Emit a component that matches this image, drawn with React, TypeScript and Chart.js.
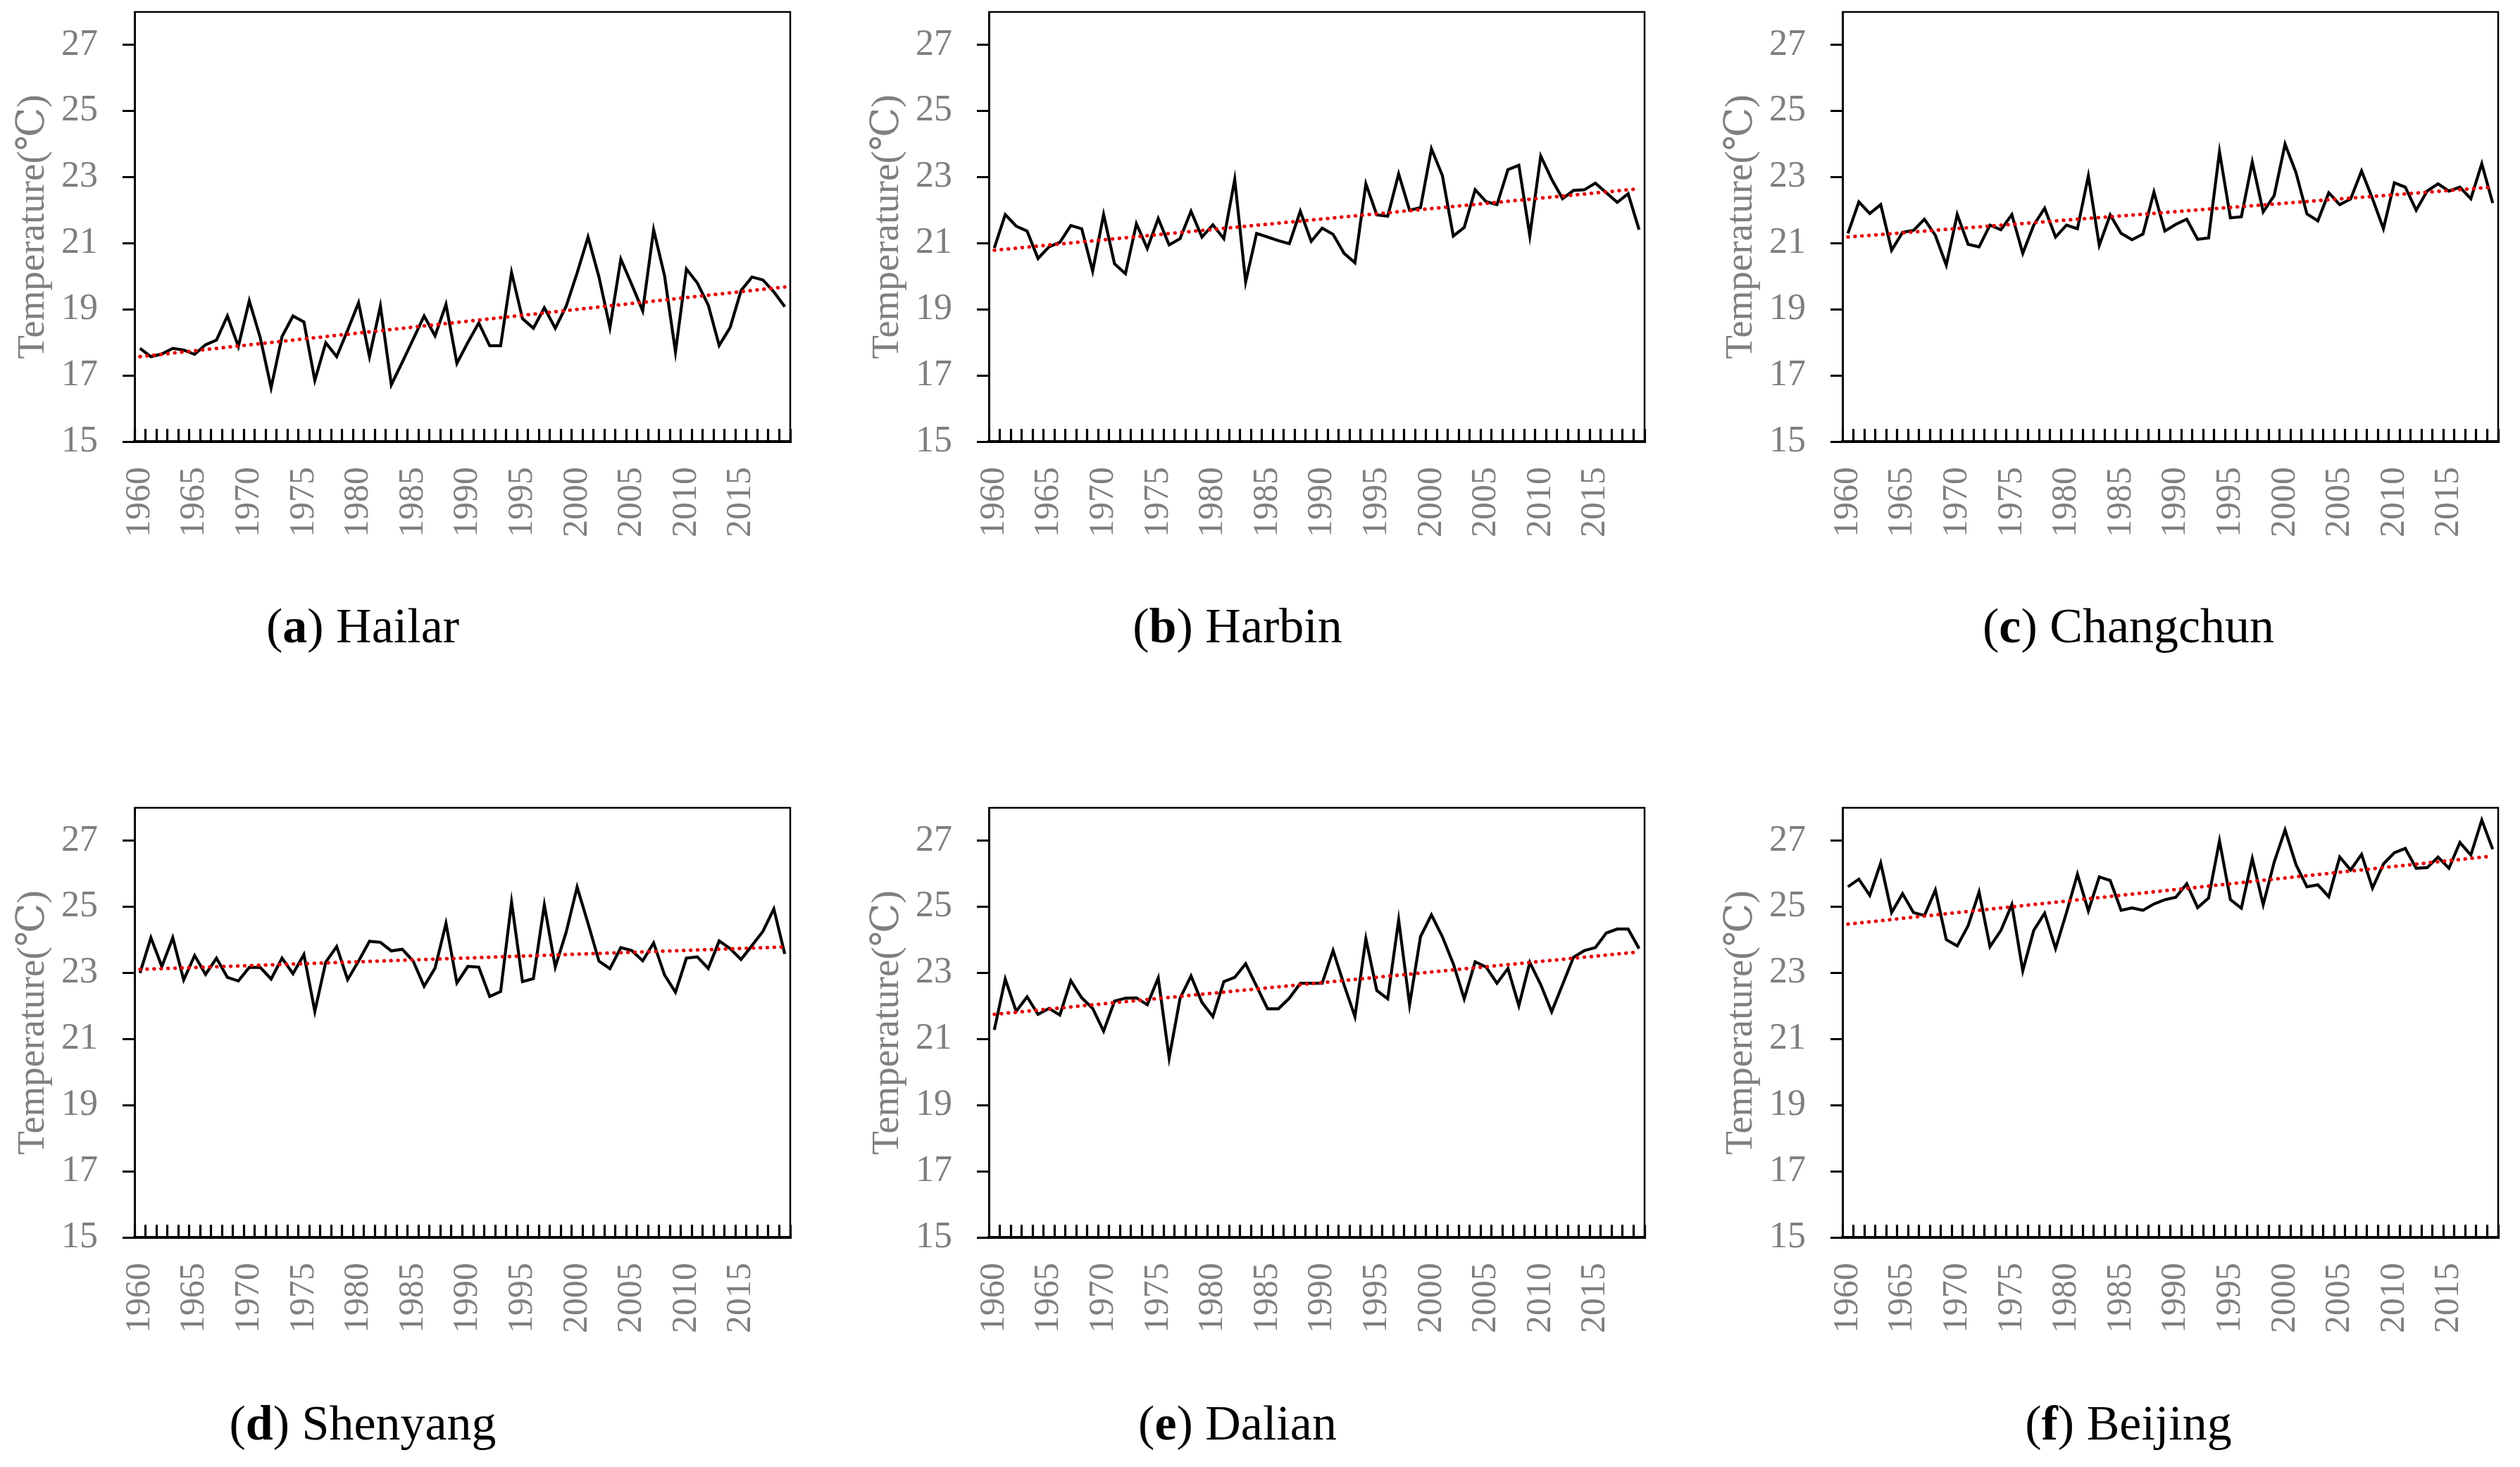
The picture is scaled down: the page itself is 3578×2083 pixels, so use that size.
import React, { useEffect, useRef } from 'react';
import { Chart, registerables } from 'chart.js';

Chart.register(...registerables);

// ---------------- data ----------------
const years = [
  1960, 1961, 1962, 1963, 1964, 1965, 1966, 1967, 1968, 1969,
  1970, 1971, 1972, 1973, 1974, 1975, 1976, 1977, 1978, 1979,
  1980, 1981, 1982, 1983, 1984, 1985, 1986, 1987, 1988, 1989,
  1990, 1991, 1992, 1993, 1994, 1995, 1996, 1997, 1998, 1999,
  2000, 2001, 2002, 2003, 2004, 2005, 2006, 2007, 2008, 2009,
  2010, 2011, 2012, 2013, 2014, 2015, 2016, 2017, 2018, 2019,
];

const hailar = [
  17.82, 17.57, 17.65, 17.82, 17.77, 17.64, 17.93, 18.07, 18.8, 17.88,
  19.26, 18.15, 16.63, 18.18, 18.8, 18.62, 16.85, 17.99, 17.57, 18.37,
  19.2, 17.57, 19.1, 16.72, 17.4, 18.1, 18.8, 18.2, 19.15, 17.37,
  18.0, 18.59, 17.9, 17.9, 20.12, 18.72, 18.43, 19.05, 18.43, 19.1,
  20.1, 21.19, 19.98, 18.45, 20.52, 19.75, 18.96, 21.41, 20.02, 17.71,
  20.22, 19.8, 19.13, 17.91, 18.45, 19.57, 19.98, 19.89, 19.53, 19.08,
];
const harbin = [
  20.86, 21.87, 21.52, 21.37, 20.54, 20.89, 21.03, 21.54, 21.44, 20.16,
  21.87, 20.38, 20.08, 21.59, 20.84, 21.75, 20.95, 21.14, 21.97, 21.19,
  21.56, 21.14, 22.93, 19.83, 21.3, 21.19, 21.08, 20.99, 21.97, 21.06,
  21.46, 21.27, 20.7, 20.41, 22.8, 21.86, 21.82, 23.1, 22.0, 22.08,
  23.86, 23.05, 21.22, 21.48, 22.62, 22.26, 22.17, 23.23, 23.36, 21.23,
  23.64, 22.94, 22.35, 22.6, 22.62, 22.82, 22.53, 22.24, 22.5, 21.41,
];
const changchun = [
  21.3, 22.25, 21.9, 22.17, 20.79, 21.33, 21.39, 21.73, 21.24, 20.34,
  21.87, 20.97, 20.89, 21.55, 21.41, 21.87, 20.7, 21.55, 22.06, 21.19,
  21.55, 21.44, 23.04, 20.94, 21.86, 21.3, 21.11, 21.28, 22.55, 21.37,
  21.57, 21.73, 21.12, 21.16, 23.77, 21.77, 21.8, 23.46, 21.95, 22.44,
  24.0, 23.14, 21.89, 21.68, 22.53, 22.17, 22.34, 23.19, 22.35, 21.44,
  22.83, 22.7, 22.0, 22.58, 22.8, 22.58, 22.7, 22.35, 23.41, 22.22,
];
const shenyang = [
  23.0, 24.07, 23.2, 24.07, 22.79, 23.53, 22.96, 23.45, 22.87, 22.76,
  23.17, 23.17, 22.82, 23.45, 22.98, 23.56, 21.84, 23.33, 23.8, 22.8,
  23.36, 23.96, 23.93, 23.67, 23.72, 23.36, 22.6, 23.15, 24.5, 22.7,
  23.2, 23.18, 22.29, 22.44, 25.15, 22.74, 22.83, 25.06, 23.18, 24.24,
  25.6, 24.5, 23.36, 23.13, 23.77, 23.68, 23.37, 23.91, 22.94, 22.42,
  23.45, 23.49, 23.14, 23.97, 23.74, 23.41, 23.83, 24.26, 24.94, 23.58,
];
const dalian = [
  21.28, 22.82, 21.84, 22.28, 21.75, 21.93, 21.73, 22.77, 22.25, 21.93,
  21.24, 22.15, 22.24, 22.25, 22.04, 22.85, 20.43, 22.24, 22.91, 22.11,
  21.68, 22.74, 22.87, 23.28, 22.6, 21.92, 21.92, 22.24, 22.69, 22.69,
  22.69, 23.68, 22.65, 21.68, 24.04, 22.47, 22.22, 24.61, 22.04, 24.1,
  24.76, 24.1, 23.28, 22.22, 23.34, 23.18, 22.69, 23.14, 22.01, 23.32,
  22.65, 21.83, 22.65, 23.48, 23.68, 23.77, 24.21, 24.33, 24.33, 23.74,
];
const beijing = [
  25.61, 25.84, 25.35, 26.33, 24.83, 25.4, 24.83, 24.74, 25.51, 24.01,
  23.82, 24.43, 25.45, 23.8, 24.29, 25.07, 23.07, 24.29, 24.81, 23.74,
  24.83, 25.99, 24.88, 25.91, 25.8, 24.9, 24.97, 24.9, 25.09, 25.22,
  25.29, 25.7, 24.98, 25.27, 27.0, 25.22, 24.96, 26.46, 25.07, 26.35,
  27.33, 26.28, 25.61, 25.67, 25.31, 26.51, 26.12, 26.59, 25.57, 26.3,
  26.64, 26.77, 26.17, 26.19, 26.51, 26.17, 26.95, 26.57, 27.63, 26.75,
];

// linear trend line: [value at first year, value at last year]
const trendHailar = [17.57, 19.68];
const trendHarbin = [20.79, 22.65];
const trendChangchun = [21.19, 22.7];
const trendShenyang = [23.11, 23.79];
const trendDalian = [21.75, 23.64];
const trendBeijing = [24.48, 26.54];

const yTicks = [15, 17, 19, 21, 23, 25, 27];
const yMin = 15;
const yMax = 28;
const labelEvery = 5;
const yTitle = 'Temperature(℃)';

// ---------------- layout / style ----------------
const FONT = "'Liberation Serif', 'DejaVu Serif', serif";
const GRAY = '#7f7f7f';
const Y_W = 191;
const PAD_T = 17;
const PLOT_W = 931;
const PLOT_H = 610;
const X_H = 160;
const PAD_R = 10;
const CW = Y_W + PLOT_W + PAD_R;
const CH = PAD_T + PLOT_H + X_H;

const framePlugin = {
  id: 'frame',
  afterDraw(chart: any) {
    const { ctx, chartArea: a } = chart;
    ctx.save();
    ctx.strokeStyle = '#000';
    ctx.lineWidth = 2.5;
    ctx.beginPath();
    ctx.moveTo(a.left, a.top);
    ctx.lineTo(a.right, a.top);
    ctx.lineTo(a.right, a.bottom);
    ctx.stroke();
    ctx.restore();
  },
};

type PanelProps = {
  values: number[];
  trend: number[];
  letter: string;
  name: string;
  left: number;
  top: number;
  capX: number;
  capTop: number;
};

function Panel({ values, trend, letter, name, left, top, capX, capTop }: PanelProps) {
  const ref = useRef<HTMLCanvasElement | null>(null);
  useEffect(() => {
    const n = years.length;
    const trendData = years.map((_, i) => (i === 0 ? trend[0] : i === n - 1 ? trend[1] : null));
    const chart = new Chart(ref.current as HTMLCanvasElement, {
      type: 'line',
      data: {
        labels: years.map(String),
        datasets: [
          {
            data: trendData as any,
            borderColor: '#e60000',
            borderWidth: 5,
            borderDash: [0.5, 9.4],
            borderCapStyle: 'round',
            spanGaps: true,
            pointRadius: 0,
            fill: false,
            order: 0,
          },
          {
            data: values,
            borderColor: '#000000',
            borderWidth: 4.2,
            pointRadius: 0,
            fill: false,
            tension: 0,
            order: 1,
          },
        ],
      },
      options: {
        animation: false,
        responsive: false,
        devicePixelRatio: 1,
        layout: { padding: { top: PAD_T, right: PAD_R, left: 0, bottom: 0 } },
        plugins: { legend: { display: false }, tooltip: { enabled: false } },
        scales: {
          x: {
            type: 'category',
            offset: true,
            grid: {
              offset: true,
              drawOnChartArea: false,
              drawTicks: true,
              tickLength: -18,
              tickWidth: 3.2,
              tickColor: '#000',
              color: '#000',
            },
            border: { display: true, color: '#000', width: 4 },
            ticks: {
              autoSkip: false,
              minRotation: 90,
              maxRotation: 90,
              padding: 54,
              color: GRAY,
              font: { family: FONT, size: 50 },
              callback: (_v: any, i: number) => (years[i] % labelEvery === 0 ? String(years[i]) : ''),
            },
            afterFit: (s: any) => {
              s.height = X_H;
              s.paddingLeft = 0;
              s.paddingRight = 0;
            },
          } as any,
          y: {
            min: yMin,
            max: yMax,
            afterBuildTicks: (s: any) => {
              s.ticks = yTicks.map((v) => ({ value: v }));
            },
            grid: {
              drawOnChartArea: false,
              tickLength: 17,
              tickWidth: 3,
              tickColor: '#000',
              color: '#000',
            },
            border: { display: true, color: '#000', width: 3 },
            ticks: { padding: 35, color: GRAY, font: { family: FONT, size: 52 } },
            title: {
              display: true,
              text: yTitle,
              color: GRAY,
              font: { family: FONT, size: 55 },
              padding: { top: 15, bottom: 0 },
            },
            afterFit: (s: any) => {
              s.width = Y_W;
              s.paddingTop = 0;
              s.paddingBottom = 0;
            },
          } as any,
        },
      },
      plugins: [framePlugin],
    });
    return () => chart.destroy();
  }, []);

  return (
    <>
      <canvas
        ref={ref}
        width={CW}
        height={CH}
        style={{ position: 'absolute', left, top, width: CW, height: CH }}
      />
      <div
        style={{
          position: 'absolute',
          left: capX - 400,
          top: capTop,
          width: 800,
          textAlign: 'center',
          fontFamily: FONT,
          fontSize: 70,
          lineHeight: '70px',
          color: '#000',
          whiteSpace: 'nowrap',
        }}
      >
        (<b>{letter}</b>) {name}
      </div>
    </>
  );
}

export default function App() {
  const colLeft = [0, 1213, 2425];
  const rowTop = [0, 1130];
  const capX = [515, 1757, 3022];
  const capTop = [854, 1986];
  return (
    <div
      style={{
        position: 'absolute',
        left: 0,
        top: 0,
        width: 3578,
        height: 2083,
        background: '#fff',
        overflow: 'hidden',
      }}
    >
      <Panel values={hailar} trend={trendHailar} letter="a" name="Hailar" left={colLeft[0]} top={rowTop[0]} capX={capX[0]} capTop={capTop[0]} />
      <Panel values={harbin} trend={trendHarbin} letter="b" name="Harbin" left={colLeft[1]} top={rowTop[0]} capX={capX[1]} capTop={capTop[0]} />
      <Panel values={changchun} trend={trendChangchun} letter="c" name="Changchun" left={colLeft[2]} top={rowTop[0]} capX={capX[2]} capTop={capTop[0]} />
      <Panel values={shenyang} trend={trendShenyang} letter="d" name="Shenyang" left={colLeft[0]} top={rowTop[1]} capX={capX[0]} capTop={capTop[1]} />
      <Panel values={dalian} trend={trendDalian} letter="e" name="Dalian" left={colLeft[1]} top={rowTop[1]} capX={capX[1]} capTop={capTop[1]} />
      <Panel values={beijing} trend={trendBeijing} letter="f" name="Beijing" left={colLeft[2]} top={rowTop[1]} capX={capX[2]} capTop={capTop[1]} />
    </div>
  );
}
